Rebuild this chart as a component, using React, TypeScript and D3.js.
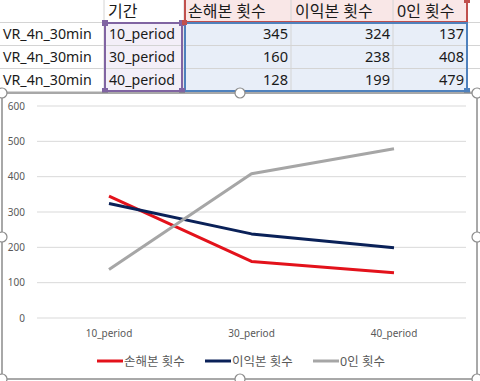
import React from "react";
import * as d3 from "d3";

const rowLabels = ["VR_4n_30min", "VR_4n_30min", "VR_4n_30min"];
const categories = ["10_period", "30_period", "40_period"];
const headerPeriod = "기간";
const seriesNames = ["손해본 횟수", "이익본 횟수", "0인 횟수"];
const lossValues = [345, 160, 128];
const gainValues = [324, 238, 199];
const zeroValues = [137, 408, 479];
const seriesColors = ["#e3121b", "#0a2158", "#a6a6a6"];
const yTicks = [0, 100, 200, 300, 400, 500, 600];

const W = 480;
const H = 381;
const font = "'Noto Sans','Noto Sans CJK KR',sans-serif";

export default function App() {
  const series = [lossValues, gainValues, zeroValues];
  const colX = [0, 104, 184, 291, 393, 467, 480];
  const rowY = [-2, 22, 45, 68, 91];

  const x = d3.scalePoint<string>().domain(categories).range([109, 394]);
  const y = d3.scaleLinear().domain([0, 600]).range([318, 106]);
  const line = d3
    .line<number>()
    .x((_, i) => x(categories[i]) as number)
    .y((d) => y(d));

  const handles: [number, number][] = [
    [2, 93], [240, 93], [477, 93], [2, 237], [477, 237], [2, 379], [240, 379], [477, 379],
  ];

  return (
    <svg width={W} height={H} style={{ position: "absolute", left: 0, top: 0, display: "block" }}>
      <rect x={0} y={0} width={W} height={H} fill="#ffffff" />
      {/* cell fills */}
      <rect x={colX[1]} y={rowY[1]} width={colX[2] - colX[1]} height={rowY[4] - rowY[1]} fill="#f3eff8" />
      <rect x={colX[2]} y={rowY[0]} width={colX[5] - colX[2]} height={rowY[1] - rowY[0]} fill="#f9e7e7" />
      <rect x={colX[2]} y={rowY[1]} width={colX[5] - colX[2]} height={rowY[4] - rowY[1]} fill="#e8eef8" />
      {/* grid lines */}
      {colX.slice(1, 6).map((cx, i) => (
        <line key={"vc" + i} x1={cx} x2={cx} y1={0} y2={rowY[4]} stroke="#d4d4d4" strokeWidth={1} />
      ))}
      {rowY.slice(1).map((ry, i) => (
        <line key={"hr" + i} x1={0} x2={W} y1={ry + 0.5} y2={ry + 0.5} stroke="#d4d4d4" strokeWidth={1} />
      ))}
      {/* selection borders */}
      <rect x={colX[2] + 1} y={-3} width={colX[5] - colX[2] - 1} height={rowY[1] + 3} fill="none" stroke="#c0504d" strokeWidth={2} />
      <rect x={colX[2] + 1} y={rowY[1] + 1} width={colX[5] - colX[2] - 1} height={rowY[4] - rowY[1] - 1} fill="none" stroke="#4f81bd" strokeWidth={2} />
      <rect x={colX[1] + 1} y={rowY[1] + 1} width={colX[2] - colX[1] - 3} height={rowY[4] - rowY[1] - 1} fill="none" stroke="#8064a2" strokeWidth={2} />
      {[[colX[1] + 1, rowY[1] + 1], [colX[2] - 2, rowY[1] + 1], [colX[1] + 1, rowY[4]], [colX[2] - 2, rowY[4]]].map(([hx, hy], i) => (
        <rect key={"ph" + i} x={hx - 3} y={hy - 3} width={6} height={6} fill="#8064a2" />
      ))}
      <rect x={colX[5] - 3} y={-3} width={6} height={6} fill="#c0504d" />
      <rect x={colX[2] - 2} y={rowY[1] - 2} width={5} height={5} fill="#c0504d" />
      <rect x={colX[5] - 3} y={rowY[4] - 3} width={6} height={6} fill="#4f81bd" />
      {/* cell text */}
      <g fontFamily={font} fill="#1a1a1a">
        <text x={colX[1] + 4} y={17} fontSize={16}>{headerPeriod}</text>
        {seriesNames.map((s, i) => (
          <text key={"h" + i} x={colX[2 + i] + 4} y={17} fontSize={16}>{s}</text>
        ))}
        {rowLabels.map((r, i) => (
          <text key={"r" + i} x={3} y={rowY[i + 1] + 17} fontSize={14.2}>{r}</text>
        ))}
        {categories.map((c, i) => (
          <text key={"c" + i} x={colX[1] + 5} y={rowY[i + 1] + 17} fontSize={14.2}>{c}</text>
        ))}
        {series.map((vals, si) =>
          vals.map((v, i) => (
            <text key={"v" + si + i} x={colX[3 + si] - 3} y={rowY[i + 1] + 17} textAnchor="end" fontSize={14.6}>{v}</text>
          ))
        )}
      </g>
      {/* chart area */}
      <rect x={2} y={93} width={475} height={286} fill="#ffffff" stroke="#8c8c8c" strokeWidth={1.5} />
      {yTicks.map((t) => (
        <g key={"t" + t}>
          <line x1={37} x2={466} y1={y(t)} y2={y(t)} stroke="#d9d9d9" strokeWidth={1} />
          <text x={25} y={y(t) + 3.5} textAnchor="end" fontFamily={font} fontSize={10} fill="#595959">{t}</text>
        </g>
      ))}
      {categories.map((c) => (
        <text key={"xl" + c} x={x(c)} y={337} textAnchor="middle" fontFamily={font} fontSize={10} fill="#595959">{c}</text>
      ))}
      {series.map((vals, si) => (
        <path key={"s" + si} d={line(vals) || ""} fill="none" stroke={seriesColors[si]} strokeWidth={3} strokeLinejoin="round" />
      ))}
      {/* legend */}
      {seriesNames.map((s, i) => {
        const lx = [97, 205, 313][i];
        return (
          <g key={"lg" + i}>
            <line x1={lx} x2={lx + 26} y1={361} y2={361} stroke={seriesColors[i]} strokeWidth={3} />
            <text x={lx + 27} y={365.5} fontFamily={font} fontSize={12.5} fill="#595959">{s}</text>
          </g>
        );
      })}
      {handles.map(([hx, hy], i) => (
        <circle key={"hd" + i} cx={hx} cy={hy} r={5} fill="#ffffff" stroke="#8c8c8c" strokeWidth={1.2} />
      ))}
    </svg>
  );
}
